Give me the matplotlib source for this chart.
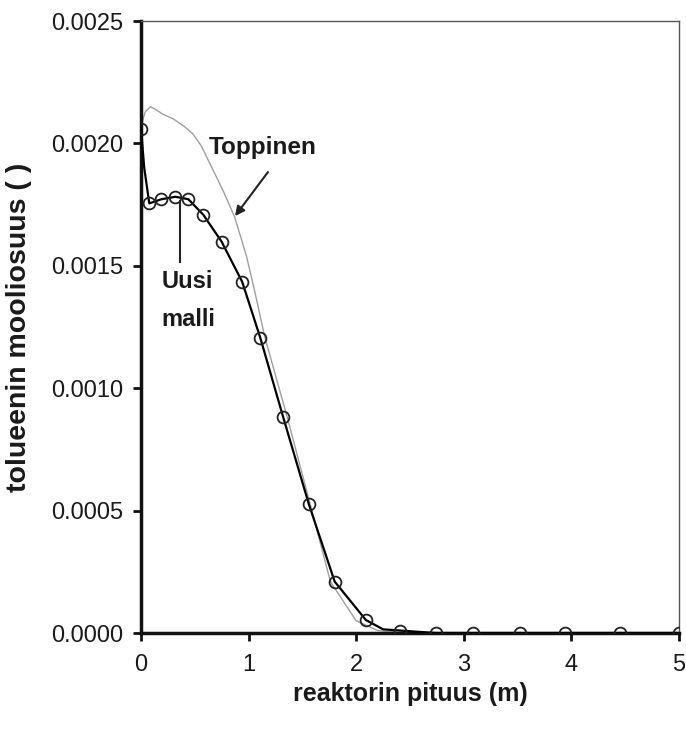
import matplotlib
matplotlib.use("Agg")
import matplotlib.pyplot as plt

# Uusi malli (new model) - marker points
uusi_x = [0.0, 0.077, 0.19, 0.32, 0.44, 0.58, 0.75, 0.94, 1.11, 1.32, 1.56, 1.80,
          2.09, 2.41, 2.74, 3.09, 3.52, 3.94, 4.45, 5.0]
uusi_y = [0.00206, 0.001755, 0.001772, 0.001782, 0.001772, 0.001708, 0.001598,
          0.001435, 0.001204, 0.000884, 0.000526, 0.00021, 0.000053, 0.00001,
          0.0, 0.0, 0.0, 0.0, 0.0, 0.0]

# Uusi malli - line trace
uusi_line_x = [0.0, 0.03, 0.077, 0.19, 0.32, 0.44, 0.58, 0.75, 0.94, 1.11, 1.32,
               1.56, 1.80, 2.09, 2.25, 2.41, 2.74, 3.09, 3.52, 3.94, 4.45, 5.0]
uusi_line_y = [0.00206, 0.00190, 0.001755, 0.001772, 0.001782, 0.001772, 0.001708,
               0.001598, 0.001435, 0.001204, 0.000884, 0.000526, 0.00021, 0.000053,
               0.000015, 0.00001, 0.0, 0.0, 0.0, 0.0, 0.0, 0.0]

# Toppinen - gray line trace
topp_x = [0.0, 0.04, 0.09, 0.13, 0.20, 0.30, 0.40, 0.48, 0.56, 0.66, 0.77, 0.87,
          0.98, 1.06, 1.15, 1.36, 1.57, 1.76, 2.0, 2.2, 2.4, 3.0, 4.0, 5.0]
topp_y = [0.00207, 0.00213, 0.00215, 0.00214, 0.00212, 0.00210, 0.00207, 0.00204,
          0.00199, 0.00190, 0.00180, 0.00170, 0.00154, 0.00139, 0.00121, 0.00088,
          0.00053, 0.00021, 0.00005, 0.00001, 0.000003, 0.0, 0.0, 0.0]

x_ticks = [0, 1, 2, 3, 4, 5]
y_ticks = [0.0, 0.0005, 0.0010, 0.0015, 0.0020, 0.0025]
y_tick_labels = ["0.0000", "0.0005", "0.0010", "0.0015", "0.0020", "0.0025"]

plt.rcParams['font.family'] = ['Liberation Sans', 'DejaVu Sans']

fig = plt.figure(figsize=(6.86, 7.34), dpi=100)
ax = fig.add_axes([141/686, 1 - 633/734, 538/686, 612/734])

ax.plot(topp_x, topp_y, color='#a0a0a0', lw=1.0, zorder=2)
ax.plot(uusi_line_x, uusi_line_y, color='black', lw=1.6, zorder=3)
ax.plot(uusi_x, uusi_y, linestyle='none', marker='o', markersize=8.5,
        markerfacecolor='none', markeredgecolor='#222222', markeredgewidth=1.3, zorder=4)

ax.set_xlim(0, 5)
ax.set_ylim(0, 0.0025)
ax.set_xticks(x_ticks)
ax.set_xticklabels([str(t) for t in x_ticks])
ax.set_yticks(y_ticks)
ax.set_yticklabels(y_tick_labels)

ax.tick_params(axis='both', direction='out', length=6, width=2, labelsize=17,
               color='#111111', labelcolor='#1a1a1a')
ax.tick_params(axis='y', pad=7)
ax.tick_params(axis='x', pad=9)

for s in ['left', 'bottom']:
    ax.spines[s].set_linewidth(2.5)
    ax.spines[s].set_color('#111111')
for s in ['top', 'right']:
    ax.spines[s].set_linewidth(1.0)
    ax.spines[s].set_color('#555555')

ax.set_xlabel('reaktorin pituus (m)', fontsize=18, fontweight='bold', color='#1a1a1a')
ax.set_ylabel('tolueenin mooliosuus ( )', fontsize=20.5, fontweight='bold', color='#1a1a1a')
ax.xaxis.set_label_coords(0.5, -0.08)
ax.yaxis.set_label_coords(-0.203, 0.5)

# annotations
ax.annotate('', xy=(0.874, 0.001703), xytext=(1.18, 0.001883),
            arrowprops=dict(arrowstyle='-|>', color='#222222', lw=1.5,
                            mutation_scale=14, shrinkA=0, shrinkB=0))
ax.text(1.134, 0.001985, 'Toppinen', fontsize=17.5, fontweight='bold',
        ha='center', va='center', color='#1a1a1a')
ax.plot([0.362, 0.362], [0.001516, 0.001765], color='#222222', lw=1.5, zorder=3)
ax.text(0.19, 0.001434, 'Uusi', fontsize=17, fontweight='bold',
        ha='left', va='center', color='#1a1a1a')
ax.text(0.19, 0.001279, 'malli', fontsize=17, fontweight='bold',
        ha='left', va='center', color='#1a1a1a')

fig.savefig('out.png', dpi=100)
